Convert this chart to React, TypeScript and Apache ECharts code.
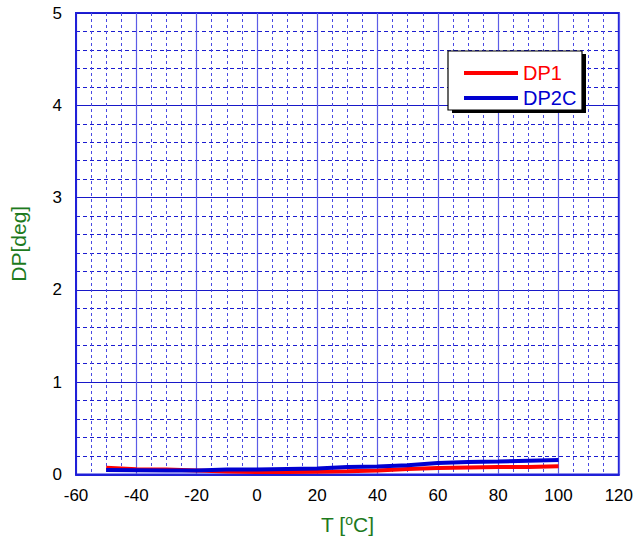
import React, { useEffect, useRef } from "react";
import * as echarts from "echarts";

const temps = [-50, -40, -30, -20, -10, 0, 10, 20, 30, 40, 50, 60, 70, 80, 90, 100];
const dp1 = [0.072, 0.057, 0.054, 0.043, 0.032, 0.027, 0.027, 0.03, 0.036, 0.043, 0.06, 0.07, 0.076, 0.081, 0.081, 0.09];
const dp2c = [0.049, 0.047, 0.043, 0.043, 0.054, 0.054, 0.06, 0.065, 0.081, 0.087, 0.1, 0.124, 0.135, 0.14, 0.15, 0.157];
const seriesNames = ["DP1", "DP2C"];

const GREEN = "#1d7a1d";

export default function App() {
  const ref = useRef<HTMLDivElement>(null);
  useEffect(() => {
    const chart = echarts.init(ref.current!, null, { renderer: "svg" });
    const font = "Liberation Sans, Arial, sans-serif";
    chart.setOption({
      animation: false,
      grid: {
        left: 74, right: 16, top: 13, bottom: 65,
        show: true, borderColor: "#2020d8", borderWidth: 2, backgroundColor: "#fff",
      },
      xAxis: {
        type: "value", min: -60, max: 120, interval: 20,
        name: "T [{sup|o}C]", nameLocation: "middle", nameGap: 38,
        nameTextStyle: {
          color: GREEN, fontSize: 21, fontFamily: font,
          rich: { sup: { fontSize: 14, color: GREEN, verticalAlign: "bottom", padding: [0, 0, 10, 0], fontFamily: font } },
        },
        axisLine: { show: true, onZero: false, lineStyle: { color: "#2020d8", width: 2 } },
        axisTick: { show: false },
        axisLabel: { color: "#000", fontSize: 17, fontFamily: font, margin: 12 },
        splitLine: { show: true, lineStyle: { color: "#5c5ce6", width: 1.2 } },
        minorTick: { show: false, splitNumber: 4 },
        minorSplitLine: { show: true, lineStyle: { color: "#4a4ae2", width: 1, type: [3, 3] } },
      },
      yAxis: {
        type: "value", min: 0, max: 5, interval: 1,
        name: "DP[deg]", nameLocation: "middle", nameGap: 47, nameRotate: 90,
        nameTextStyle: { color: GREEN, fontSize: 21, fontFamily: font },
        axisLine: { show: true, onZero: false, lineStyle: { color: "#2020d8", width: 2 } },
        axisTick: { show: false },
        axisLabel: { color: "#000", fontSize: 17, fontFamily: font, margin: 14 },
        splitLine: { show: true, lineStyle: { color: "#1818c8", width: 1.2 } },
        minorTick: { show: false, splitNumber: 5 },
        minorSplitLine: { show: true, lineStyle: { color: "#1c1cd0", width: 1, type: [4, 3] } },
      },
      graphic: [
        { type: "rect", z: 50, shape: { x: 452, y: 54, width: 134, height: 59 }, style: { fill: "#000" } },
        { type: "rect", z: 51, shape: { x: 448, y: 51, width: 134, height: 59 }, style: { fill: "#fff", stroke: "#000", lineWidth: 1.2 } },
      ],
      legend: {
        z: 60,
        orient: "vertical", left: 459, top: 58, itemGap: 5,
        itemWidth: 54, itemHeight: 4, icon: "rect",
        textStyle: { fontSize: 20, fontFamily: font },
        data: [
          { name: seriesNames[0], textStyle: { color: "#ff0000" } },
          { name: seriesNames[1], textStyle: { color: "#0000d0" } },
        ],
      },
      series: [
        {
          name: seriesNames[0], type: "line", showSymbol: false,
          data: temps.map((t, i) => [t, dp1[i]]),
          lineStyle: { color: "#ff0000", width: 4 }, itemStyle: { color: "#ff0000" },
        },
        {
          name: seriesNames[1], type: "line", showSymbol: false,
          data: temps.map((t, i) => [t, dp2c[i]]),
          lineStyle: { color: "#0000d0", width: 4 }, itemStyle: { color: "#0000d0" },
        },
      ],
    });
    return () => chart.dispose();
  }, []);
  return <div ref={ref} style={{ width: 636, height: 540, position: "absolute", left: 0, top: 0 }} />;
}
